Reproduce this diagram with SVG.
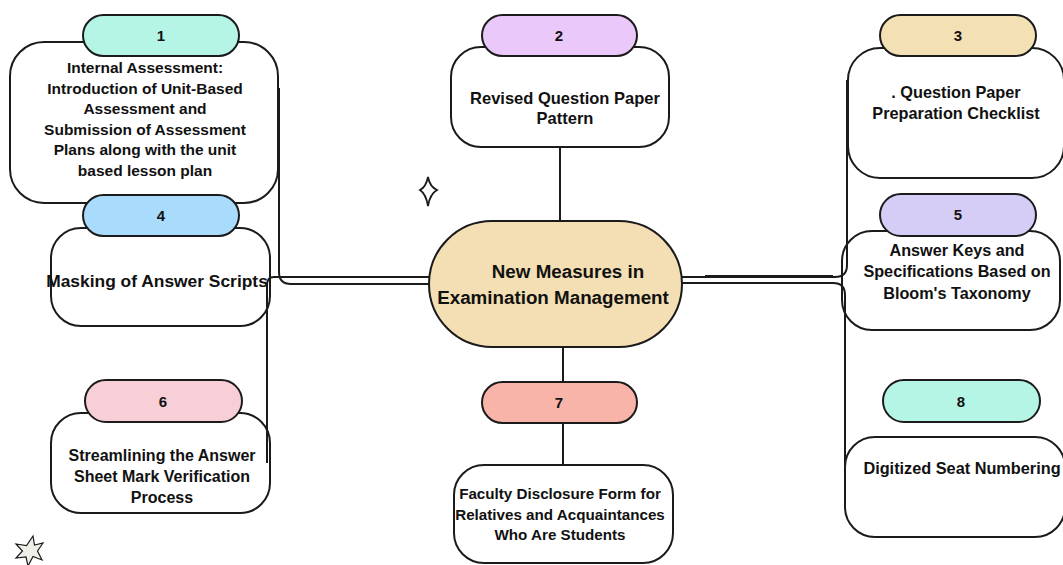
<svg xmlns="http://www.w3.org/2000/svg" width="1063" height="565" viewBox="0 0 1063 565">
<style>
.box{fill:#ffffff;stroke:#1b1b1b;stroke-width:2}
.pill{stroke:#1b1b1b;stroke-width:2}
.ln{fill:none;stroke:#1b1b1b;stroke-width:2}
.t{font-family:"Liberation Sans",Arial,sans-serif;font-weight:bold;fill:#111111;text-anchor:middle}
.num{font-size:15px}
</style>
<rect width="1063" height="565" fill="#ffffff"/>

<g id="node1">
<rect class="box" x="10" y="42" width="268" height="161" rx="34"/>
</g>
<g id="node2">
<rect class="box" x="451" y="47" width="218" height="100" rx="30"/>
</g>
<g id="node3">
<rect class="box" x="848" y="48" width="216" height="130" rx="32"/>
</g>
<g id="node4">
<rect class="box" x="51" y="228" width="219" height="98" rx="30"/>
</g>
<g id="node5">
<rect class="box" x="842" y="231" width="218" height="99" rx="30"/>
</g>
<g id="node6">
<rect class="box" x="51" y="413" width="219" height="100" rx="30"/>
</g>
<g id="node7">
<rect class="box" x="454" y="465" width="219" height="98" rx="30"/>
</g>
<g id="node8">
<rect class="box" x="845" y="437" width="220" height="100" rx="30"/>
</g>

<g id="connectors">
<path class="ln" d="M279,88 V272 Q279,284 291,284 H431"/>
<path class="ln" d="M431,277 H274 Q267,277 267,285 V463"/>
<path class="ln" d="M681,277 H835 Q847,277 847,265 V80"/>
<path class="ln" d="M681,283 H833 Q845,283 845,295 V485"/>
<path class="ln" d="M705,276 H833" stroke-width="2.5"/>
<path class="ln" d="M560,147 V222"/>
<path class="ln" d="M563,346 V382"/>
<path class="ln" d="M563,423 V465"/>
</g>

<g id="pills">
<rect class="pill" x="83" y="15" width="156" height="41" rx="20.5" fill="#b5f5e6"/>
<rect class="pill" x="482" y="15" width="155" height="41" rx="20.5" fill="#ebc8fa"/>
<rect class="pill" x="880" y="15" width="156" height="41" rx="20.5" fill="#f3e0b4"/>
<rect class="pill" x="83" y="195" width="156" height="41" rx="20.5" fill="#a9dcfc"/>
<rect class="pill" x="880" y="194" width="156" height="42" rx="21" fill="#d5cdf6"/>
<rect class="pill" x="85" y="380" width="157" height="42" rx="21" fill="#f8cfd6"/>
<rect class="pill" x="482" y="382" width="155" height="41" rx="20.5" fill="#f8b4a8"/>
<rect class="pill" x="883" y="380" width="157" height="42" rx="21" fill="#b5f5e6"/>
<text class="t num" x="161" y="41">1</text>
<text class="t num" x="559" y="41">2</text>
<text class="t num" x="958" y="41">3</text>
<text class="t num" x="161" y="221">4</text>
<text class="t num" x="958" y="220">5</text>
<text class="t num" x="163" y="407">6</text>
<text class="t num" x="559" y="408">7</text>
<text class="t num" x="961" y="407">8</text>
</g>

<g id="labels">
<g class="t" font-size="15.5">
<text x="145" y="73">Internal Assessment:</text>
<text x="145" y="94">Introduction of Unit-Based</text>
<text x="145" y="114">Assessment and</text>
<text x="145" y="135">Submission of Assessment</text>
<text x="145" y="155">Plans along with the unit</text>
<text x="145" y="176">based lesson plan</text>
</g>
<g class="t" font-size="16.5">
<text x="565" y="104">Revised Question Paper</text>
<text x="565" y="124">Pattern</text>
</g>
<g class="t" font-size="16.3">
<text x="956" y="98">. Question Paper</text>
<text x="956" y="119">Preparation Checklist</text>
</g>
<text class="t" font-size="17.4" x="157" y="287">Masking of Answer Scripts</text>
<g class="t" font-size="16.2">
<text x="957" y="256">Answer Keys and</text>
<text x="957" y="277">Specifications Based on</text>
<text x="957" y="299">Bloom's Taxonomy</text>
</g>
<g class="t" font-size="16">
<text x="162" y="461">Streamlining the Answer</text>
<text x="162" y="482">Sheet Mark Verification</text>
<text x="162" y="503">Process</text>
</g>
<g class="t" font-size="15.2">
<text x="560" y="499">Faculty Disclosure Form for</text>
<text x="560" y="520">Relatives and Acquaintances</text>
<text x="560" y="540">Who Are Students</text>
</g>
<text class="t" font-size="16.3" x="962" y="474">Digitized Seat Numbering</text>
</g>

<g id="center">
<rect x="429" y="221" width="253" height="126" rx="63" fill="#f3dfb3" stroke="#1b1b1b" stroke-width="2"/>
<text class="t" font-size="18.8" x="568" y="278">New Measures in</text>
<text class="t" font-size="18.8" x="553" y="304">Examination Management</text>
</g>

<g id="decor">
<path d="M428,177 Q430,187 437,190 Q430,194 428,206 Q426,194 420,190 Q426,187 428,177 Z" fill="none" stroke="#1b1b1b" stroke-width="1.8"/>
<path d="M33,536 L34.5,545 L43,543 L37.5,551 L42,560 L33,556.5 L28,566 L26,557 L16,558 L22.5,551 L16,544 L26.5,545.5 Z" fill="#eeefe8" stroke="#1b1b1b" stroke-width="1.2"/>
</g>
</svg>
